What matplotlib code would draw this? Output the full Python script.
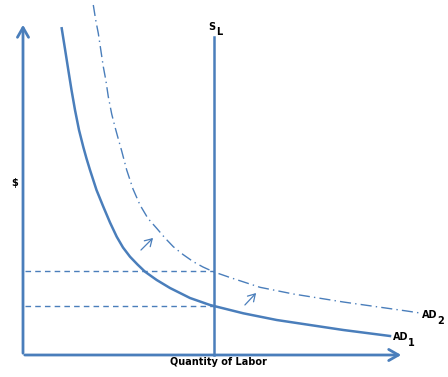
import matplotlib
matplotlib.use("Agg")
import matplotlib.pyplot as plt

# Curve data (x = quantity of labor, y = price, in chart units)
ad1_x = [61.7, 65, 68.3, 71.5, 75, 79, 83.3, 86.5, 90, 96.5, 103.3, 110, 116.7, 123, 130, 137.5,
         145, 156.7, 170, 190, 210, 243.3, 276.7, 310, 343.3, 390]
ad1_y = [28.3, 49, 70, 90, 110, 130, 147, 158.5, 170, 190, 206.7, 222.5, 236.7, 247.5, 256.7, 264.5,
         271.7, 280, 288, 298, 305, 313.3, 320, 325, 330, 336]
ad2_x = [93.3, 95.7, 98.3, 100.8, 103.3, 105.8, 108.3, 111.7, 115, 118.3, 121.7, 126.7, 133, 140,
         148, 156.7, 165, 173.3, 183, 193.3, 203, 213.3, 230, 260, 293.3, 343.3, 406.7, 420]
ad2_y = [5, 20, 33.3, 50, 66.7, 80, 96.7, 114, 127, 139, 151, 170, 189, 205,
         218.5, 228.3, 238, 246.7, 254.5, 261.7, 267, 271.7, 277.5, 287.3, 294, 302, 311, 313]
sl_x = 214
sl_top = 37
eq_levels = [271, 306]

BLUE = "#4a7ebb"
fig = plt.figure(figsize=(4.48, 3.77), dpi=100)
ax = fig.add_axes([0, 0, 1, 1])
ax.set_xlim(0, 448)
ax.set_ylim(377, 0)
ax.axis("off")

# axes arrows
ax.annotate("", xy=(23, 22), xytext=(23, 356),
            arrowprops=dict(arrowstyle="->,head_length=0.7,head_width=0.4", color=BLUE, lw=2))
ax.annotate("", xy=(404, 355), xytext=(22, 355),
            arrowprops=dict(arrowstyle="->,head_length=0.7,head_width=0.4", color=BLUE, lw=2))

ax.plot(ad1_x, ad1_y, color=BLUE, lw=1.8, solid_joinstyle="round")
ax.plot(ad2_x, ad2_y, color=BLUE, lw=1.0, linestyle=(0, (8, 3, 1, 3)))
ax.plot([sl_x, sl_x], [sl_top, 355], color=BLUE, lw=1.8)
for lv in eq_levels:
    ax.plot([25, sl_x], [lv, lv], color=BLUE, lw=1.0, linestyle=(0, (4, 3)))

for (x0, y0, x1, y1) in [(139, 252, 155, 236), (243, 307, 258, 291)]:
    ax.annotate("", xy=(x1, y1), xytext=(x0, y0),
                arrowprops=dict(arrowstyle="->,head_length=0.5,head_width=0.3", color=BLUE, lw=0.9))

fs = 7
bold = dict(fontsize=fs, fontweight="bold", va="center")
ax.text(15, 183, "$", ha="center", **bold)
ax.text(218, 362, "Quantity of Labor", ha="center", **bold)
ax.text(208.5, 27, "S", ha="left", **bold)
ax.text(216, 32, "L", ha="left", **bold)
ax.text(422, 315, "AD", ha="left", **bold)
ax.text(437, 321, "2", ha="left", **bold)
ax.text(393, 337, "AD", ha="left", **bold)
ax.text(408, 343, "1", ha="left", **bold)

fig.savefig("out.png", dpi=100)
